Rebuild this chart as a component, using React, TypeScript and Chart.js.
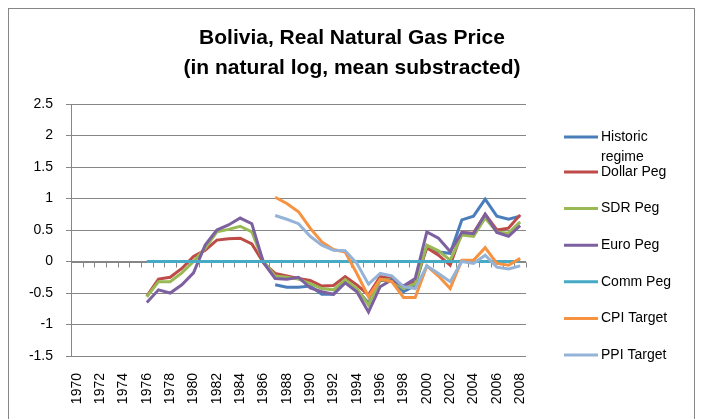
import React, { useEffect, useRef } from "react";
import { Chart, registerables } from "chart.js";

Chart.register(...registerables);

const years: string[] = [];
for (let y = 1970; y <= 2008; y++) years.push(String(y));

const titleLines = ["Bolivia, Real Natural Gas Price", "(in natural log, mean substracted)"];
const yTicks = [-1.5, -1, -0.5, 0, 0.5, 1, 1.5, 2, 2.5];

const n6 = [null, null, null, null, null, null];
const n17 = [null, null, null, null, null, null, null, null, null, null, null, null, null, null, null, null, null];

const historic = [...n17,
  -0.37, -0.41, -0.41, -0.39, -0.52, -0.52, -0.32, -0.45, -0.66, -0.3, -0.3, -0.48, -0.38,
  0.24, 0.15, 0.13, 0.66, 0.72, 0.99, 0.72, 0.67, 0.72];
const dollarPeg = [...n6,
  -0.55, -0.28, -0.25, -0.11, 0.08, 0.18, 0.34, 0.36, 0.37, 0.28, -0.02,
  -0.19, -0.23, -0.27, -0.3, -0.39, -0.38, -0.24, -0.37, -0.53, -0.24, -0.27, -0.4, -0.32,
  0.22, 0.1, -0.06, 0.46, 0.45, 0.75, 0.5, 0.53, 0.74];
const sdrPeg = [...n6,
  -0.56, -0.32, -0.32, -0.18, 0.0, 0.21, 0.47, 0.51, 0.56, 0.47, 0.0,
  -0.23, -0.25, -0.28, -0.35, -0.43, -0.45, -0.29, -0.43, -0.69, -0.29, -0.29, -0.43, -0.35,
  0.26, 0.17, 0.02, 0.42, 0.4, 0.69, 0.47, 0.45, 0.63];
const euroPeg = [...n6,
  -0.65, -0.45, -0.5, -0.37, -0.18, 0.26, 0.5, 0.58, 0.69, 0.6, -0.02,
  -0.27, -0.28, -0.25, -0.42, -0.48, -0.52, -0.34, -0.48, -0.8, -0.4, -0.29, -0.39, -0.27,
  0.47, 0.37, 0.16, 0.46, 0.44, 0.75, 0.46, 0.4, 0.57];
const commPeg = [...n6,
  0, 0, 0, 0, 0, 0, 0, 0, 0, 0, 0, 0, 0, 0, 0, 0, 0, 0, 0, 0, 0, 0, 0, 0, 0, 0, 0, 0, 0, 0, 0, 0, 0];
const cpiTarget = [...n17,
  1.02, 0.92, 0.79, 0.53, 0.31, 0.19, 0.15, -0.19, -0.56, -0.28, -0.32, -0.57, -0.57,
  -0.07, -0.23, -0.43, 0.02, 0.02, 0.22, -0.03, -0.06, 0.05];
const ppiTarget = [...n17,
  0.73, 0.67, 0.6, 0.4, 0.26, 0.18, 0.17, -0.03, -0.36, -0.19, -0.23, -0.4, -0.43,
  -0.07, -0.19, -0.32, 0.0, -0.03, 0.1, -0.09, -0.12, -0.07];

const seriesNames = ["Historic regime", "Dollar Peg", "SDR Peg", "Euro Peg", "Comm Peg", "CPI Target", "PPI Target"];
const seriesData = [historic, dollarPeg, sdrPeg, euroPeg, commPeg, cpiTarget, ppiTarget];
const seriesColors = ["#4A7EBB", "#BE4B48", "#98B954", "#7D60A0", "#46AAC5", "#F69240", "#95B3D7"];

const FONT = '"Liberation Sans", Arial, sans-serif';
const GRID = "#868686";

const decorPlugin = {
  id: "decor",
  beforeDraw(chart: any) {
    const ctx = chart.ctx;
    ctx.save();
    ctx.fillStyle = "#ffffff";
    ctx.fillRect(0, 0, chart.width, chart.height);
    ctx.strokeStyle = GRID;
    ctx.lineWidth = 1;
    ctx.strokeRect(0.5, 0.5, chart.width - 1, chart.height - 1);
    // title
    ctx.fillStyle = "#000";
    ctx.font = `bold 21px ${FONT}`;
    ctx.textAlign = "center";
    ctx.textBaseline = "alphabetic";
    titleLines.forEach((t, i) => ctx.fillText(t, 344, 36 + i * 30));
    ctx.restore();
  },
  beforeDatasetsDraw(chart: any) {
    const ctx = chart.ctx;
    const xs = chart.scales.x;
    const ys = chart.scales.y;
    const y0 = Math.round(ys.getPixelForValue(0)) + 0.5;
    const area = chart.chartArea;
    ctx.save();
    ctx.strokeStyle = GRID;
    ctx.lineWidth = 1;
    ctx.beginPath();
    ctx.moveTo(area.left, y0);
    ctx.lineTo(area.right, y0);
    const n = chart.data.labels.length;
    for (let i = 0; i <= n; i++) {
      let px;
      if (i === 0) px = area.left;
      else if (i === n) px = area.right;
      else px = (xs.getPixelForValue(i - 1) + xs.getPixelForValue(i)) / 2;
      px = Math.round(px) + 0.5;
      ctx.moveTo(px, y0);
      ctx.lineTo(px, y0 + 5);
    }
    ctx.stroke();
    ctx.restore();
  },
  afterDraw(chart: any) {
    const ctx = chart.ctx;
    ctx.save();
    ctx.font = `14px ${FONT}`;
    ctx.textAlign = "left";
    ctx.textBaseline = "middle";
    const lineX0 = 556;
    const lineX1 = 590;
    const textX = 593;
    chart.data.datasets.forEach((ds: any, i: number) => {
      const cy = i === 0 ? 129 : 164 + (i - 1) * 36.6;
      ctx.strokeStyle = ds.borderColor;
      ctx.lineWidth = 3;
      ctx.beginPath();
      ctx.moveTo(lineX0, cy);
      ctx.lineTo(lineX1, cy);
      ctx.stroke();
      // wrap text
      const words = String(ds.label).split(" ");
      const lines: string[] = [];
      let cur = "";
      words.forEach((w) => {
        const test = cur ? cur + " " + w : w;
        if (ctx.measureText(test).width > 84 && cur) {
          lines.push(cur);
          cur = w;
        } else cur = test;
      });
      if (cur) lines.push(cur);
      ctx.fillStyle = "#000";
      lines.forEach((l, k) => ctx.fillText(l, textX, cy + k * 20));
    });
    ctx.restore();
  },
};

export default function App() {
  const ref = useRef<HTMLCanvasElement>(null);
  useEffect(() => {
    document.documentElement.style.overflow = "hidden";
    const canvas = ref.current!;
    const chart = new Chart(canvas, {
      type: "line",
      data: {
        labels: years,
        datasets: seriesNames.map((name, i) => ({
          label: name,
          data: seriesData[i],
          borderColor: seriesColors[i],
          backgroundColor: seriesColors[i],
          borderWidth: 3,
          pointRadius: 0,
          tension: 0,
          fill: false,
          spanGaps: false,
          order: -i,
        })),
      },
      options: {
        animation: false,
        responsive: false,
        devicePixelRatio: 1,
        layout: { padding: { top: 96, right: 169, left: 0, bottom: 0 } },
        plugins: {
          legend: { display: false },
          title: { display: false },
          tooltip: { enabled: false },
        },
        scales: {
          x: {
            type: "category",
            offset: true,
            grid: { display: false, drawTicks: false },
            border: { display: false },
            ticks: {
              autoSkip: false,
              maxRotation: 90,
              minRotation: 90,
              padding: 17,
              color: "#000",
              font: { family: FONT, size: 14 },
              callback: (_v: any, i: number) => (i % 2 === 0 ? years[i] : ""),
            },
            afterFit: (s: any) => {
              s.height = 82;
            },
          },
          y: {
            min: -1.5,
            max: 2.5,
            afterBuildTicks: (s: any) => {
              s.ticks = yTicks.map((v) => ({ value: v }));
            },
            grid: { color: GRID, lineWidth: 1, drawTicks: true, tickLength: 5 },
            border: { display: true, color: GRID, width: 1 },
            ticks: {
              padding: 13,
              color: "#000",
              font: { family: FONT, size: 14 },
              callback: (v: any) => String(v),
            },
            afterFit: (s: any) => {
              s.width = 63;
            },
          },
        },
      },
      plugins: [decorPlugin],
    });
    return () => chart.destroy();
  }, []);
  return (
    <canvas ref={ref} width={687} height={430} style={{ display: "block", width: 687, height: 430 }} />
  );
}
